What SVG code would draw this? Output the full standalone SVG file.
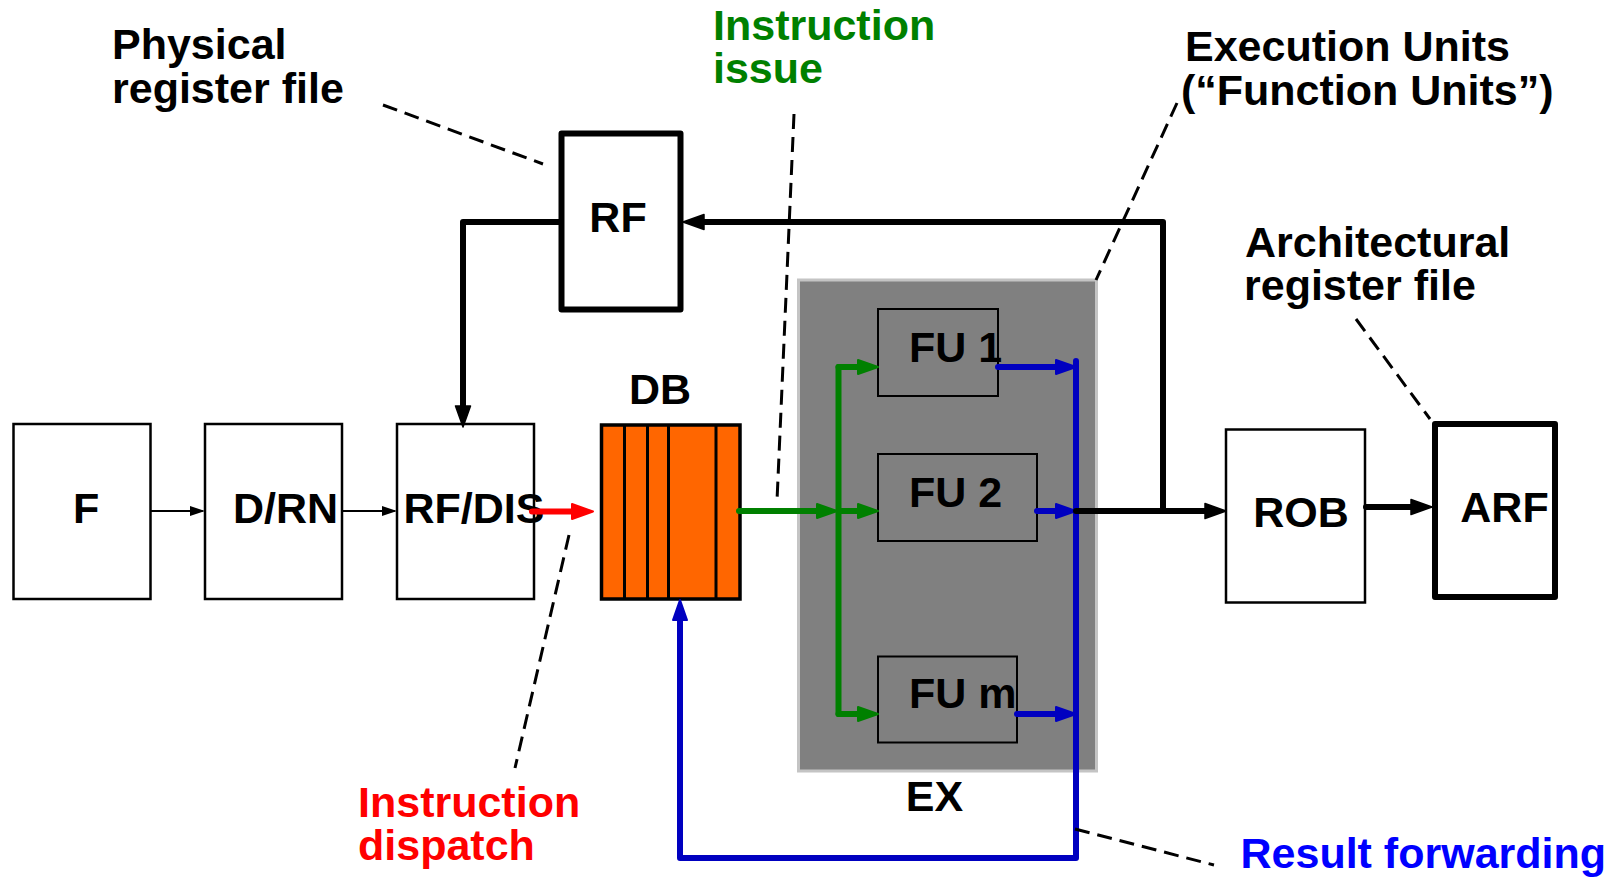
<svg xmlns="http://www.w3.org/2000/svg" width="1616" height="880" viewBox="0 0 1616 880">
<style>
text{font-family:"Liberation Sans",Arial,sans-serif;font-weight:bold;font-size:43px;fill:#000}
.box{fill:#fff;stroke:#000;stroke-width:2.5}
.fu{fill:#808080;stroke:#000;stroke-width:2}
.thick{fill:#fff;stroke:#000;stroke-width:6;stroke-linejoin:round}
.lead{fill:none;stroke:#000;stroke-width:3;stroke-dasharray:15 8}
.c{fill:none;stroke-linecap:round;stroke-linejoin:round}
.k{stroke:#000;stroke-width:6}
.t{stroke:#000;stroke-width:2}
.g{stroke:#008000;stroke-width:6}
.b{stroke:#0000C0;stroke-width:6}
.r{stroke:#FF0000;stroke-width:6}
</style>
<defs>
<marker id="ah-t" markerUnits="userSpaceOnUse" markerWidth="16" markerHeight="10" refX="12" refY="5" orient="auto" overflow="visible"><path d="M0,0 L15,5 L0,10 z" fill="#000"/></marker>
<marker id="ah-k" markerUnits="userSpaceOnUse" markerWidth="22" markerHeight="16" refX="10" refY="8" orient="auto" overflow="visible"><path d="M0,0.5 L21,8 L0,15.5 z" fill="#000" stroke="#000" stroke-width="1.5" stroke-linejoin="round"/></marker>
<marker id="ah-g" markerUnits="userSpaceOnUse" markerWidth="22" markerHeight="16" refX="10" refY="8" orient="auto" overflow="visible"><path d="M0,1 L20,8 L0,15 z" fill="#008000" stroke="#008000" stroke-width="2" stroke-linejoin="round"/></marker>
<marker id="ah-b" markerUnits="userSpaceOnUse" markerWidth="22" markerHeight="16" refX="10" refY="8" orient="auto" overflow="visible"><path d="M0,1 L20,8 L0,15 z" fill="#0000C0" stroke="#0000C0" stroke-width="2" stroke-linejoin="round"/></marker>
<marker id="ah-r" markerUnits="userSpaceOnUse" markerWidth="22" markerHeight="18" refX="10" refY="8.5" orient="auto" overflow="visible"><path d="M0,1 L21,8.5 L0,16 z" fill="#FF0000" stroke="#FF0000" stroke-width="2" stroke-linejoin="round"/></marker>
</defs>
<rect width="1616" height="880" fill="#fff"/>

<g id="EX">
<rect x="798.5" y="280" width="298" height="491" fill="#808080" stroke="#c4c4c4" stroke-width="3"/>
<text x="934.4" y="810.7" text-anchor="middle">EX</text>
</g>

<g id="F"><rect class="box" x="13.5" y="424" width="137" height="175"/><text x="73" y="523">F</text></g>
<g id="DRN"><rect class="box" x="205" y="424" width="137" height="175"/><text x="233" y="523">D/RN</text></g>
<g id="RFDIS"><rect class="box" x="397" y="424" width="137" height="175"/><text x="403.5" y="523">RF/DIS</text></g>

<g id="RF"><rect class="thick" x="561.5" y="133.5" width="119" height="176"/><text x="618" y="232.3" text-anchor="middle">RF</text></g>

<g id="DB">
<rect x="601.5" y="425" width="138.5" height="174" fill="#FF6600" stroke="#000" stroke-width="3.5"/>
<path d="M624.5,425V599M647.5,425V599M668.5,425V599M716,425V599" stroke="#000" stroke-width="3"/>
<text x="660" y="404" text-anchor="middle">DB</text>
</g>

<g id="FU1"><rect class="fu" x="878" y="309" width="120" height="87"/><text x="909" y="361.7">FU 1</text></g>
<g id="FU2"><rect class="fu" x="878" y="454" width="159" height="87"/><text x="909" y="506.7">FU 2</text></g>
<g id="FUm"><rect class="fu" x="878" y="656.5" width="139" height="86"/><text x="909" y="708.3">FU m</text></g>

<g id="ROB"><rect class="box" x="1226" y="429.5" width="139" height="173"/><text x="1301" y="526.7" text-anchor="middle">ROB</text></g>
<g id="ARF"><rect class="thick" x="1435" y="424" width="120" height="173" stroke-width="7"/><text x="1504.5" y="521.7" text-anchor="middle">ARF</text></g>

<g id="connectors">
<path class="c t" d="M151,511H202" marker-end="url(#ah-t)"/>
<path class="c t" d="M342,511H394" marker-end="url(#ah-t)"/>
<path class="c r" d="M532,511.5H582" marker-end="url(#ah-r)"/>
<path class="c g" d="M739,511H827" marker-end="url(#ah-g)"/>
<path class="c g" d="M838.5,367V714"/>
<path class="c g" d="M838.5,367H868" marker-end="url(#ah-g)"/>
<path class="c g" d="M838.5,511H868" marker-end="url(#ah-g)"/>
<path class="c g" d="M838.5,714H868" marker-end="url(#ah-g)"/>
<path class="c b" d="M998,367H1066" marker-end="url(#ah-b)"/>
<path class="c b" d="M1037,511H1066" marker-end="url(#ah-b)"/>
<path class="c b" d="M1017,714H1066" marker-end="url(#ah-b)"/>
<path class="c b" d="M1076,361V858H680V610" marker-end="url(#ah-b)"/>
<path class="c k" d="M1076,511H1215" marker-end="url(#ah-k)"/>
<path class="c k" d="M1163,511V222H694" marker-end="url(#ah-k)"/>
<path class="c k" d="M561,222H463V416" marker-end="url(#ah-k)"/>
<path class="c k" d="M1366,507H1421" stroke-width="7" marker-end="url(#ah-k)"/>
</g>

<g id="leaders">
<path class="lead" d="M383,105L543,164"/>
<path class="lead" d="M794,114L777,501"/>
<path class="lead" d="M1177,103L1096,280"/>
<path class="lead" d="M1356,319L1430,419"/>
<path class="lead" d="M569,535L515,768"/>
<path class="lead" d="M1075,829L1214,865" stroke-width="3.2"/>
</g>

<g id="labels">
<text x="112" y="58.5">Physical</text>
<text x="112" y="103">register file</text>
<text x="713" y="39.5" style="fill:#008000">Instruction</text>
<text x="713" y="82.5" style="fill:#008000">issue</text>
<text x="1185" y="60.7">Execution Units</text>
<text x="1181" y="104.5">(“Function Units”)</text>
<text x="1245" y="256.7">Architectural</text>
<text x="1244" y="300">register file</text>
<text x="358" y="817" style="fill:#FF0000">Instruction</text>
<text x="358" y="859.5" style="fill:#FF0000">dispatch</text>
<text x="1240.5" y="868.3" style="fill:#0000FF">Result forwarding</text>
</g>
</svg>
